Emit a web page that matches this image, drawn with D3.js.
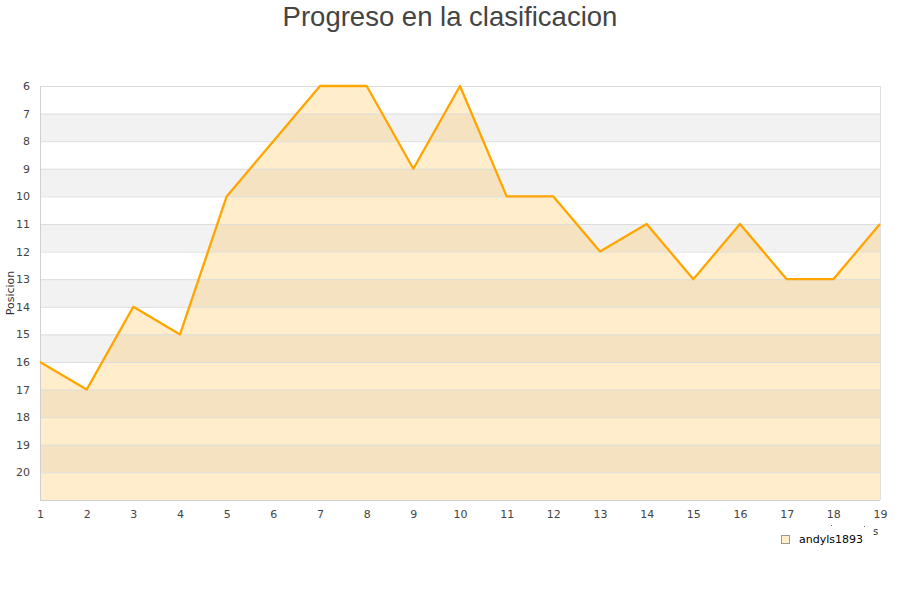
<!DOCTYPE html>
<html><head><meta charset="utf-8">
<script src="https://cdn.jsdelivr.net/npm/d3@7"></script>
<style>body{margin:0;background:#fff}svg{display:block}</style>
</head><body><svg id="c" width="900" height="600"></svg>
<script>
const jornadas = [1,2,3,4,5,6,7,8,9,10,11,12,13,14,15,16,17,18,19];
const posiciones = [16,17,14,15,10,8,6,6,9,6,10,10,12,11,13,11,13,13,11];
const yTicks = [6,7,8,9,10,11,12,13,14,15,16,17,18,19,20];
const seriesName = "andyls1893";
const titleText = "Progreso en la clasificacion";
const yLabel = "Posicion";

const svg = d3.select("#c");
const L=40, R=880, T=86, B=500;
const x = d3.scaleLinear().domain([1,19]).range([L,R]);
const y = d3.scaleLinear().domain([6,21]).range([T,B]);
const font = "DejaVu Sans, sans-serif";

// bands
const bands = d3.range(6,21);
svg.selectAll("rect.band").data(bands).enter().append("rect")
  .attr("x",L).attr("width",R-L)
  .attr("y",d=>y(d)).attr("height",d=>y(d+1)-y(d))
  .attr("fill",(d,i)=> i%2===1 ? "#f2f2f2" : "#ffffff");

// area
const area = d3.area().x((d,i)=>x(jornadas[i])).y0(y(21)).y1(d=>y(d));
svg.append("path").datum(posiciones).attr("d",area)
  .attr("fill","#ffa500").attr("fill-opacity",0.2);

// grid lines
svg.selectAll("line.grid").data(yTicks).enter().append("line")
  .attr("x1",L).attr("x2",R).attr("y1",d=>y(d)+0.5).attr("y2",d=>y(d)+0.5)
  .attr("stroke","#dddddd").attr("stroke-width",1);

// frame
svg.append("line").attr("x1",L+0.5).attr("x2",L+0.5).attr("y1",T).attr("y2",B).attr("stroke","#d0d0d0");
svg.append("line").attr("x1",R+0.5).attr("x2",R+0.5).attr("y1",T).attr("y2",B).attr("stroke","#e0e0e0");
svg.append("line").attr("x1",L).attr("x2",R).attr("y1",B+0.5).attr("y2",B+0.5).attr("stroke","#d0d0d0");

// line
const line = d3.line().x((d,i)=>x(jornadas[i])).y(d=>y(d));
svg.append("path").datum(posiciones).attr("d",line)
  .attr("fill","none").attr("stroke","#ffa500").attr("stroke-width",2.3).attr("stroke-linejoin","round");

// y axis
const yAxis = d3.axisLeft(y).tickValues(yTicks).tickSize(0).tickPadding(10);
const gy = svg.append("g").attr("transform",`translate(${L},0)`).call(yAxis);
gy.select(".domain").remove();
gy.selectAll("text").attr("font-family",font).attr("font-size",11).attr("fill","#444");

// x axis
const xAxis = d3.axisBottom(x).tickValues(jornadas).tickSize(0).tickPadding(10);
const gx = svg.append("g").attr("transform",`translate(0,${B})`).call(xAxis);
gx.select(".domain").remove();
gx.selectAll("text").attr("font-family",font).attr("font-size",11).attr("fill","#444");

// title
svg.append("text").attr("x",450).attr("y",26).attr("text-anchor","middle")
  .attr("font-family","Liberation Sans, Arial, sans-serif").attr("font-size",27.5).attr("fill","#444")
  .text(titleText);

// y label
svg.append("text").attr("transform","translate(14,293) rotate(-90)").attr("text-anchor","middle")
  .attr("font-family",font).attr("font-size",11).attr("fill","#333").text(yLabel);

// clipped x title remnant
svg.append("text").attr("x",873).attr("y",535).attr("font-family",font).attr("font-size",10).attr("fill","#333").text("s");
svg.append("rect").attr("x",831).attr("y",525).attr("width",1).attr("height",1).attr("fill","#666");
svg.append("rect").attr("x",864).attr("y",526).attr("width",1).attr("height",1).attr("fill","#666");

// legend
svg.append("rect").attr("x",781.5).attr("y",535.5).attr("width",8).attr("height",8)
  .attr("fill","#ffedcc").attr("stroke","#999");
svg.append("text").attr("x",799).attr("y",543).attr("font-family",font).attr("font-size",11).attr("fill","#000").text(seriesName);
</script></body></html>
